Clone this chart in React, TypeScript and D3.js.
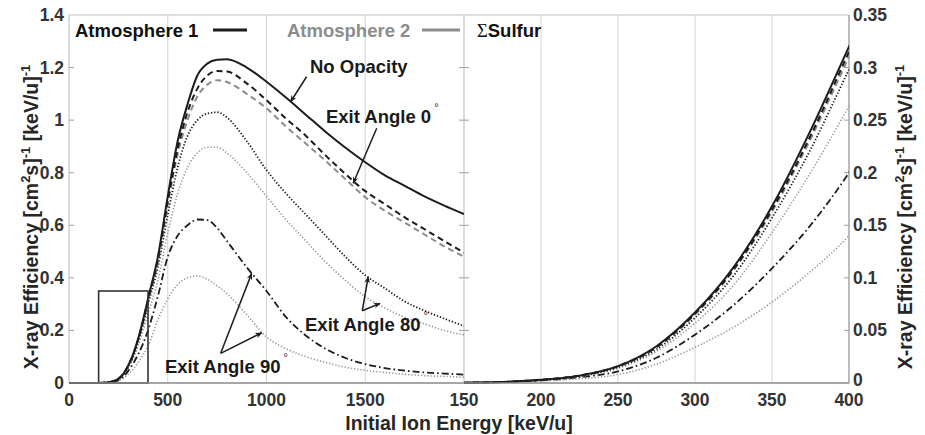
import React from "react";
import * as d3 from "d3";

// initial ion energy [keV/u]
const energy = [0, 100, 150, 175, 200, 225, 250, 275, 300, 325, 350, 375, 400, 450, 500, 550, 600, 650, 700, 750, 800, 900, 1000, 1100, 1200, 1300, 1400, 1500, 1600, 1700, 1800, 1900, 2000];

// x-ray efficiency, atmosphere 1
const noOpacity = [0, 0, 0.0003, 0.001, 0.003, 0.007, 0.016, 0.035, 0.067, 0.11, 0.168, 0.24, 0.32, 0.48, 0.71, 0.92, 1.06, 1.17, 1.215, 1.23, 1.232, 1.2, 1.146, 1.085, 1.02, 0.955, 0.895, 0.84, 0.79, 0.75, 0.71, 0.675, 0.643];
const atm1Exit0 = [0, 0, 0.0003, 0.001, 0.003, 0.007, 0.016, 0.034, 0.066, 0.108, 0.165, 0.235, 0.315, 0.47, 0.69, 0.89, 1.03, 1.12, 1.17, 1.187, 1.185, 1.14, 1.076, 1.005, 0.94, 0.865, 0.795, 0.73, 0.68, 0.63, 0.585, 0.54, 0.496];
const atm1Exit80 = [0, 0, 0.0003, 0.001, 0.003, 0.0065, 0.015, 0.032, 0.062, 0.102, 0.157, 0.222, 0.298, 0.44, 0.64, 0.82, 0.94, 1.0, 1.025, 1.03, 1.01, 0.92, 0.81, 0.72, 0.64, 0.56, 0.48, 0.41, 0.36, 0.31, 0.275, 0.245, 0.217];
const atm1Exit90 = [0, 0, 0.0002, 0.0008, 0.0025, 0.0055, 0.011, 0.024, 0.046, 0.074, 0.109, 0.15, 0.2, 0.33, 0.48, 0.56, 0.6, 0.622, 0.62, 0.59, 0.54, 0.44, 0.35, 0.25, 0.18, 0.13, 0.095, 0.072, 0.057, 0.047, 0.04, 0.036, 0.032];

// x-ray efficiency, atmosphere 2
const atm2Exit0 = [0, 0, 0.0003, 0.001, 0.003, 0.007, 0.0155, 0.034, 0.065, 0.107, 0.163, 0.232, 0.31, 0.46, 0.68, 0.87, 1.0, 1.09, 1.135, 1.152, 1.145, 1.1, 1.045, 0.975, 0.91, 0.845, 0.775, 0.707, 0.655, 0.61, 0.565, 0.52, 0.48];
const atm2Exit80 = [0, 0, 0.0003, 0.0009, 0.0028, 0.006, 0.014, 0.03, 0.057, 0.093, 0.143, 0.2, 0.263, 0.39, 0.57, 0.72, 0.82, 0.875, 0.897, 0.897, 0.875, 0.8, 0.71, 0.62, 0.54, 0.46, 0.39, 0.328, 0.285, 0.25, 0.225, 0.2, 0.183];
const atm2Exit90 = [0, 0, 0.0002, 0.0007, 0.002, 0.004, 0.008, 0.018, 0.034, 0.053, 0.077, 0.106, 0.14, 0.24, 0.32, 0.375, 0.4, 0.407, 0.395, 0.37, 0.34, 0.26, 0.175, 0.13, 0.1, 0.078, 0.06, 0.048, 0.04, 0.033, 0.028, 0.025, 0.022];

const leftXTicks = [0, 500, 1000, 1500];
const leftYTicks = [0, 0.2, 0.4, 0.6, 0.8, 1, 1.2, 1.4];
const rightXTicks = [150, 200, 250, 300, 350, 400];
const rightYTicks = [0, 0.05, 0.1, 0.15, 0.2, 0.25, 0.3, 0.35];

const BLACK = "#1c1c1c";
const GRAY = "#8c8c8c";
const DOT = "1.3,1.9";

const series = [
  { values: atm2Exit90, stroke: "#999", dash: DOT, width: 1.6 },
  { values: atm1Exit90, stroke: BLACK, dash: "7,3,1.6,3", width: 1.8 },
  { values: atm2Exit80, stroke: "#999", dash: DOT, width: 1.6 },
  { values: atm1Exit80, stroke: BLACK, dash: DOT, width: 1.8 },
  { values: atm2Exit0, stroke: GRAY, dash: "6,4", width: 2 },
  { values: atm1Exit0, stroke: BLACK, dash: "6,4", width: 2 },
  { values: noOpacity, stroke: BLACK, dash: null, width: 2 },
];

// annotations in left-panel data coordinates
const notes = [
  { text: "No Opacity", deg: false, at: [1220, 1.179], from: [1203, 1.165], to: [[1122, 1.07]] },
  { text: "Exit Angle 0", deg: true, at: [1301, 0.99], from: [1558, 0.969], to: [[1439, 0.76]] },
  { text: "Exit Angle 80", deg: true, at: [1195, 0.198], from: [1485, 0.275], to: [[1515, 0.404], [1575, 0.303]] },
  { text: "Exit Angle 90", deg: true, at: [486, 0.038], from: [768, 0.113], to: [[925, 0.417], [976, 0.191]] },
];

const W = 925;
const H = 435;
const top = 15;
const bottom = 383;
const left = 69;
const mid = 464;
const right = 849;
const FONT = "'Liberation Sans', Arial, Helvetica, sans-serif";

export default function App() {
  const xL = d3.scaleLinear().domain([0, 2000]).range([left, mid]);
  const yL = d3.scaleLinear().domain([0, 1.4]).range([bottom, top]);
  const xR = d3.scaleLinear().domain([150, 400]).range([mid, right]);
  const yR = d3.scaleLinear().domain([0, 0.35]).range([bottom, top]);

  const lineFor = (x: any, y: any) =>
    d3
      .line<number>()
      .x((_, i) => x(energy[i]))
      .y((d) => y(d))
      .curve(d3.curveMonotoneX);

  const lineL = lineFor(xL, yL);
  const lineR = lineFor(xR, yR);

  const tickColor = "#333";
  const boxColor = "#a0a0a0";

  return (
    <div style={{ position: "absolute", left: 0, top: 0 }}>
      <svg width={W} height={H} style={{ display: "block", background: "#fff" }} fontFamily={FONT}>
        <defs>
          <clipPath id="clipL">
            <rect x={left} y={top} width={mid - left} height={bottom - top + 2} />
          </clipPath>
          <clipPath id="clipR">
            <rect x={mid} y={top} width={right - mid} height={bottom - top + 2} />
          </clipPath>
          <marker id="arrow" viewBox="0 0 10 10" refX="9" refY="5" markerWidth="7" markerHeight="7" orient="auto-start-reverse" markerUnits="userSpaceOnUse">
            <path d="M0,1 L10,5 L0,9 L3,5 Z" fill={BLACK} />
          </marker>
        </defs>

        {/* grid */}
        {leftXTicks.slice(1).map((t) => (
          <line key={"gl" + t} x1={xL(t)} x2={xL(t)} y1={top} y2={bottom} stroke="#d4d4d4" strokeWidth={1} />
        ))}
        {rightXTicks.slice(1, -1).map((t) => (
          <line key={"gr" + t} x1={xR(t)} x2={xR(t)} y1={top} y2={bottom} stroke="#d4d4d4" strokeWidth={1} />
        ))}

        {/* frame */}
        <line x1={left} x2={right} y1={top} y2={top} stroke="#c4c4c4" strokeWidth={1.2} />
        <line x1={left} x2={left} y1={top} y2={bottom} stroke="#c4c4c4" strokeWidth={1.2} />
        <line x1={mid} x2={mid} y1={top} y2={bottom} stroke="#c4c4c4" strokeWidth={1.2} />
        <line x1={right} x2={right} y1={top} y2={bottom} stroke={boxColor} strokeWidth={1.4} />

        {/* y ticks */}
        {leftYTicks.slice(1, -1).map((t) => (
          <g key={"ytl" + t}>
            <line x1={left} x2={left + 5} y1={yL(t)} y2={yL(t)} stroke={boxColor} />
            <line x1={mid - 5} x2={mid + 5} y1={yL(t)} y2={yL(t)} stroke={boxColor} />
          </g>
        ))}
        {rightYTicks.slice(1, -1).map((t) => (
          <line key={"ytr" + t} x1={right - 5} x2={right} y1={yR(t)} y2={yR(t)} stroke={boxColor} />
        ))}

        {/* curves */}
        <g clipPath="url(#clipL)">
          {series.map((s, i) => (
            <path key={"l" + i} d={lineL(s.values) || ""} fill="none" stroke={s.stroke} strokeWidth={s.width} strokeDasharray={s.dash || undefined} />
          ))}
        </g>
        <g clipPath="url(#clipR)">
          {series.map((s, i) => (
            <path key={"r" + i} d={lineR(s.values) || ""} fill="none" stroke={s.stroke} strokeWidth={s.width} strokeDasharray={s.dash || undefined} />
          ))}
        </g>

        {/* zoom box */}
        <rect x={xL(150)} y={yL(0.35)} width={xL(400) - xL(150)} height={yL(0) - yL(0.35)} fill="none" stroke="#333" strokeWidth={1.6} />

        {/* bottom axis */}
        <line x1={left} x2={right} y1={bottom} y2={bottom} stroke="#8a8a8a" strokeWidth={1.6} />

        {/* tick labels */}
        {leftXTicks.map((t) => (
          <text key={"xl" + t} x={xL(t)} y={bottom + 23} textAnchor="middle" fontSize={17.5} fontWeight="bold" fill={tickColor}>
            {t}
          </text>
        ))}
        {rightXTicks.map((t) => (
          <text key={"xr" + t} x={xR(t)} y={bottom + 23} textAnchor="middle" fontSize={17.5} fontWeight="bold" fill={tickColor}>
            {t}
          </text>
        ))}
        {leftYTicks.map((t) => (
          <text key={"yl" + t} x={left - 5} y={yL(t) + 6} textAnchor="end" fontSize={17.5} fontWeight="bold" fill={tickColor}>
            {d3.format("~g")(t)}
          </text>
        ))}
        {rightYTicks.map((t) => (
          <text key={"yr" + t} x={right + 4} y={yR(t) + (t === 0 ? 3 : 6)} textAnchor="start" fontSize={17.5} fontWeight="bold" fill={tickColor}>
            {d3.format("~g")(t)}
          </text>
        ))}

        {/* axis titles */}
        <text x={(left + right) / 2} y={430} textAnchor="middle" fontSize={19.5} fontWeight="bold" fill="#262626">
          Initial Ion Energy [keV/u]
        </text>
        {[38, 912].map((bx) => (
          <text key={"yt" + bx} transform={`translate(${bx},${(top + bottom) / 2 + 18}) rotate(-90)`} textAnchor="middle" fontSize={19.5} fontWeight="bold" fill="#262626">
            X-ray Efficiency [cm<tspan dy={-8} fontSize={13}>2</tspan>
            <tspan dy={8}>s]</tspan>
            <tspan dy={-8} fontSize={13}>-1</tspan>
            <tspan dy={8}> [keV/u]</tspan>
            <tspan dy={-8} fontSize={13}>-1</tspan>
          </text>
        ))}

        {/* legend */}
        <text x={75} y={37} fontSize={18.5} fontWeight="bold" fill="#111">Atmosphere 1</text>
        <line x1={213} x2={247} y1={30} y2={30} stroke={BLACK} strokeWidth={3} />
        <text x={287} y={37} fontSize={18.5} fontWeight="bold" fill={GRAY}>Atmosphere 2</text>
        <line x1={422} x2={460} y1={30} y2={30} stroke={GRAY} strokeWidth={3} />
        <text x={477} y={37} fontSize={18.5} fontWeight="bold" fill="#111">
          <tspan fontFamily="'Liberation Serif', 'Times New Roman', serif" fontWeight="normal">Σ</tspan>Sulfur
        </text>

        {/* annotations */}
        {notes.map((n) => (
          <g key={n.text}>
            {n.to.map((p, j) => (
              <line key={j} x1={xL(n.from[0])} y1={yL(n.from[1])} x2={xL(p[0])} y2={yL(p[1])} stroke={BLACK} strokeWidth={1.5} markerEnd="url(#arrow)" />
            ))}
            <text x={xL(n.at[0])} y={yL(n.at[1])} fontSize={18.5} fontWeight="bold" fill="#1a1a1a">
              {n.text}
              {n.deg ? (
                <tspan dx={3} dy={-12} fontSize={11} fontWeight="normal">
                  °
                </tspan>
              ) : null}
            </text>
          </g>
        ))}
      </svg>
    </div>
  );
}
